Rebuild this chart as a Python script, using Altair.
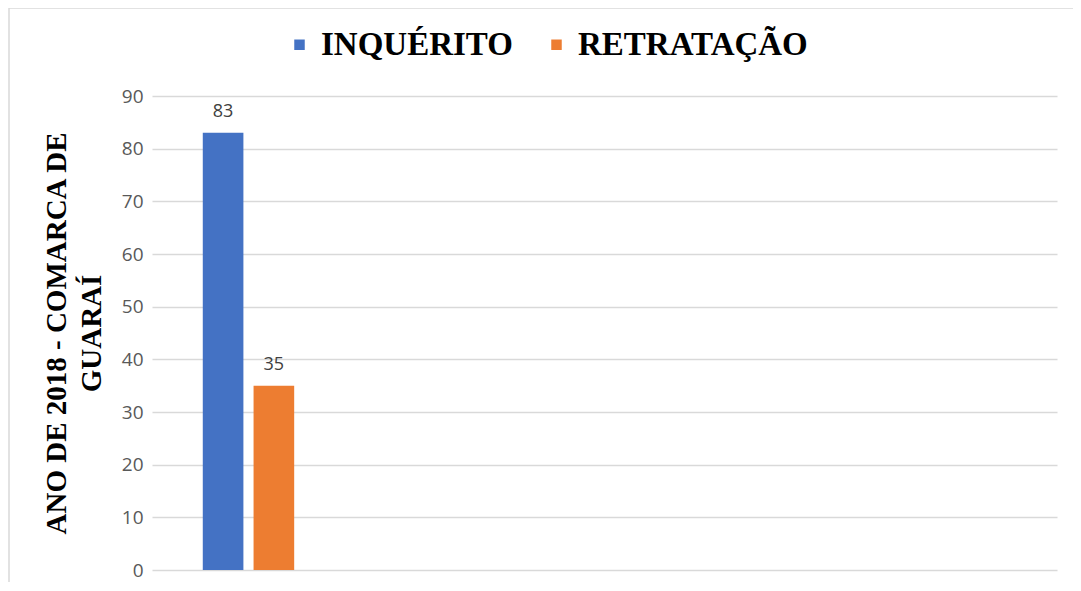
import altair as alt
import pandas as pd

# ---- data ----
series = ["INQUÉRITO", "RETRATAÇÃO"]
values = [83, 35]
group = ["2018", "2018"]
colors = ["#4472C4", "#ED7D31"]
y_ticks = [0, 10, 20, 30, 40, 50, 60, 70, 80, 90]
y_title = ["ANO DE 2018 - COMARCA DE", "GUARAÍ"]

df = pd.DataFrame({"grupo": group, "serie": series, "valor": values})
frame_df = pd.DataFrame({"k": [0]})

W, H = 905, 474

x_enc = alt.X("grupo:N", axis=None,
              scale=alt.Scale(paddingInner=0.458, paddingOuter=1, align=0))
xo_enc = alt.XOffset("serie:N", sort=series,
                     scale=alt.Scale(paddingInner=0.2, paddingOuter=1))
y_enc = alt.Y(
    "valor:Q",
    scale=alt.Scale(domain=[0, 90], nice=False),
    axis=alt.Axis(
        values=y_ticks,
        title=y_title,
        titleFont="Liberation Serif",
        titleFontSize=29,
        titleFontWeight="bold",
        titleColor="#000000",
        titleLineHeight=35,
        titlePadding=15,
        labelFont="Open Sans",
        labelFontSize=19,
        labelColor="#595959",
        labelPadding=9,
        ticks=False,
        domain=False,
        gridColor="#D9D9D9",
        gridWidth=1.5,
    ),
)

bars = alt.Chart(df).mark_bar().encode(
    x=x_enc,
    xOffset=xo_enc,
    y=y_enc,
    color=alt.Color(
        "serie:N",
        sort=series,
        scale=alt.Scale(domain=series, range=colors),
        legend=alt.Legend(
            title=None,
            orient="none",
            direction="horizontal",
            legendX=131,
            legendY=-68,
            symbolType="square",
            symbolSize=110,
            symbolStrokeWidth=0,
            labelFont="Liberation Serif",
            labelFontSize=33,
            labelFontWeight="bold",
            labelColor="#000000",
            labelOffset=5,
            columnPadding=27,
            padding=0,
            labelLimit=400,
        ),
    ),
)

labels = alt.Chart(df).mark_text(
    baseline="bottom", dy=-12, font="Open Sans", fontSize=18, color="#404040"
).encode(
    x=x_enc,
    xOffset=xo_enc,
    y=alt.Y("valor:Q"),
    text=alt.Text("valor:Q"),
)

frame_left = alt.Chart(frame_df).mark_rule(color="#D9D9D9", strokeWidth=1.5).encode(
    x=alt.value(-143), y=alt.value(-88), y2=alt.value(H + 18)
)
frame_top = alt.Chart(frame_df).mark_rule(color="#D9D9D9", strokeWidth=1.5).encode(
    x=alt.value(-143), x2=alt.value(W + 20), y=alt.value(-88)
)

chart = (
    alt.layer(frame_left, frame_top, bars, labels)
    .properties(
        width=W,
        height=H,
        padding={"left": 144, "top": 88, "right": 16, "bottom": 12},
        autosize=alt.AutoSizeParams(type="none"),
        background="white",
    )
    .configure_view(stroke=None)
)

chart.save("out.html", embed_options={"renderer": "svg", "actions": False})
